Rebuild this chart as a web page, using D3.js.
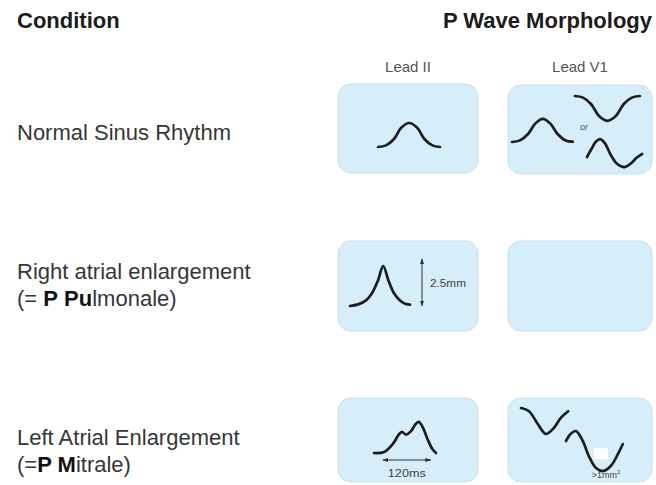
<!DOCTYPE html>
<html><head><meta charset="utf-8">
<script src="https://cdn.jsdelivr.net/npm/d3@7"></script>
<style>html,body{margin:0;padding:0;background:#fff}svg{display:block}</style>
</head><body>
<script>
// ---------- data ----------
const conditions = ["Normal Sinus Rhythm", "Right atrial enlargement", "Left Atrial Enlargement"];
const leads = ["Lead II", "Lead V1"];
const headings = ["Condition", "P Wave Morphology"];
// label lines: segments [text, bold]
const labelLines = [
  [[["Normal Sinus Rhythm", 0]]],
  [[["Right atrial enlargement", 0]], [["(= ", 0], ["P", 1], [" ", 0], ["Pu", 1], ["lmonale)", 0]]],
  [[["Left Atrial Enlargement", 0]], [["(=", 0], ["P M", 1], ["itrale)", 0]]]
];
// waveforms: [time (ms), amplitude (mm)]
const normalII   = [[0,0],[20,0.1],[40,0.5],[58,1.2],[78,1.5],[98,1.2],[116,0.5],[136,0.1],[155,0]];
const normalV1a  = [[0,0],[20,0.1],[40,0.5],[58,1.15],[77,1.45],[96,1.15],[114,0.5],[134,0.1],[152,0.02]];
const normalV1b  = [[0,0],[20,-0.1],[40,-0.5],[60,-1.25],[81,-1.55],[102,-1.25],[122,-0.5],[142,-0.1],[162,0]];
const normalV1c  = [[0,0],[10,0.45],[22,0.95],[33,1.12],[45,0.85],[58,0.2],[72,-0.35],[85,-0.58],[96,-0.62],[110,-0.4],[124,-0.05],[138,0.2]];
const pulmonaleII = [[0,0],[20,0.1],[40,0.35],[55,0.8],[70,1.6],[83,2.5],[96,1.6],[110,0.8],[125,0.35],[140,0.12],[150,0.08]];
const mitraleII  = [[0,0],[25,0.06],[48,0.6],[62,1.15],[70,1.32],[80,1.15],[92,1.35],[104,1.8],[112,1.95],[122,1.6],[135,0.8],[146,0.25],[155,0]];
const mitraleV1a = [[0,0],[20,-0.2],[42,-1.0],[62,-1.62],[82,-1.25],[100,-0.6],[118,-0.2]];
const mitraleV1b = [[0,0],[12,0.45],[25,0.62],[42,0],[57,-0.94],[75,-1.69],[92,-1.88],[112,-1.56],[130,-0.81],[142,-0.19]];
const annotations = ["2.5mm", "120ms", ">1mm", "or"];
const pAmplitudeMm = 2.5, pDurationMs = 120;

// ---------- layout ----------
const W = 656, H = 485;
const pxPerMs = 0.4, pxPerMm = 16;
const svg = d3.select("body").append("svg").attr("width", W).attr("height", H);
const font = "'Liberation Sans', Arial, Helvetica, sans-serif";

const rowY = d3.scalePoint().domain(conditions).range([84, 398]);
const colX = d3.scalePoint().domain(leads).range([338, 508]);
const boxW = {"Lead II": 140, "Lead V1": 144};
const boxH = [89, 90, 84];

// headings
svg.append("text").text(headings[0]).attr("x", 17).attr("y", 28)
  .attr("font-family", font).attr("font-weight", "bold").attr("font-size", 22).attr("fill", "#1c1c1c");
svg.append("text").text(headings[1]).attr("x", 652).attr("y", 28).attr("text-anchor", "end")
  .attr("font-family", font).attr("font-weight", "bold").attr("font-size", 22).attr("fill", "#1c1c1c");

// lead headers
svg.selectAll("text.lead").data(leads).join("text").attr("class", "lead")
  .attr("x", d => colX(d) + boxW[d] / 2).attr("y", 72).attr("text-anchor", "middle")
  .attr("font-family", font).attr("font-size", 15).attr("fill", "#555").text(d => d);

// condition labels
const labelOffsets = [56, 38, 47];
conditions.forEach((c, i) => {
  labelLines[i].forEach((line, j) => {
    const t = svg.append("text").attr("x", 17).attr("y", rowY(c) + labelOffsets[i] + j * 27)
      .attr("font-family", font).attr("font-size", 22).attr("fill", "#363636");
    line.forEach(([s, b]) => t.append("tspan").text(s).attr("font-weight", b ? "bold" : "normal")
      .attr("fill", b ? "#111" : "#363636"));
  });
});

// boxes
conditions.forEach((c, i) => {
  leads.forEach(l => {
    svg.append("rect").attr("x", colX(l)).attr("y", rowY(c) + (l === "Lead V1" && i !== 1 ? 1 : 0) - (l==="Lead V1" && i===2 ? 1 : 0))
      .attr("width", boxW[l]).attr("height", boxH[i]).attr("rx", 13).attr("ry", 13)
      .attr("fill", "#d6eef9").attr("stroke", "#c9e0ec").attr("stroke-width", 1);
  });
});

// waves: placement (box-relative start x, baseline y)
const waves = [
  {data: normalII,    row: 0, lead: "Lead II", dx: 40, dy: 63},
  {data: normalV1a,   row: 0, lead: "Lead V1", dx: 4,  dy: 58},
  {data: normalV1b,   row: 0, lead: "Lead V1", dx: 67, dy: 12},
  {data: normalV1c,   row: 0, lead: "Lead V1", dx: 79, dy: 73},
  {data: pulmonaleII, row: 1, lead: "Lead II", dx: 12, dy: 65},
  {data: mitraleII,   row: 2, lead: "Lead II", dx: 36, dy: 55},
  {data: mitraleV1a,  row: 2, lead: "Lead V1", dx: 13, dy: 10},
  {data: mitraleV1b,  row: 2, lead: "Lead V1", dx: 58, dy: 43}
];
function scalesFor(w) {
  const x0 = colX(w.lead) + w.dx, y0 = rowY(conditions[w.row]) + w.dy;
  const x = d3.scaleLinear().domain([0, 1]).range([x0, x0 + pxPerMs]);
  const y = d3.scaleLinear().domain([0, 1]).range([y0, y0 - pxPerMm]);
  return {x, y};
}
waves.forEach(w => {
  const {x, y} = scalesFor(w);
  const line = d3.line().x(d => x(d[0])).y(d => y(d[1])).curve(d3.curveCatmullRom.alpha(0.5));
  svg.append("path").attr("d", line(w.data)).attr("fill", "none")
    .attr("stroke", "#1d1d1d").attr("stroke-width", 2.7).attr("stroke-linecap", "round").attr("stroke-linejoin", "round");
});

// arrow markers
const defs = svg.append("defs");
["s", "e"].forEach(k => {
  defs.append("marker").attr("id", "ah" + k).attr("viewBox", "0 0 10 10").attr("refX", 9).attr("refY", 5)
    .attr("markerWidth", 6).attr("markerHeight", 6).attr("orient", k === "e" ? "auto" : "auto-start-reverse")
    .append("path").attr("d", "M0,1.5 L10,5 L0,8.5 Z").attr("fill", "#333");
});

// 2.5mm amplitude arrow
{
  const {x, y} = scalesFor(waves[4]);
  const ax = x(0) + 72;
  svg.append("line").attr("x1", ax).attr("x2", ax).attr("y1", y(0)).attr("y2", y(pAmplitudeMm + 0.45))
    .attr("stroke", "#333").attr("stroke-width", 1).attr("marker-start", "url(#ahs)").attr("marker-end", "url(#ahe)");
  svg.append("text").text(annotations[0]).attr("x", ax + 8).attr("y", y(1.2))
    .attr("font-family", font).attr("font-size", 10).attr("fill", "#444").attr("textLength", 36).attr("lengthAdjust", "spacingAndGlyphs");
}
// 120ms duration arrow
{
  const {x, y} = scalesFor(waves[5]);
  const ay = y(0) + 7;
  const xs = x(22);
  svg.append("line").attr("x1", xs).attr("x2", x(22 + pDurationMs)).attr("y1", ay).attr("y2", ay)
    .attr("stroke", "#333").attr("stroke-width", 1).attr("marker-start", "url(#ahs)").attr("marker-end", "url(#ahe)");
  svg.append("text").text(annotations[1]).attr("x", x(22 + pDurationMs / 2)).attr("y", ay + 17).attr("text-anchor", "middle")
    .attr("font-family", font).attr("font-size", 10).attr("fill", "#444").attr("textLength", 38).attr("lengthAdjust", "spacingAndGlyphs");
}
// >1mm² box
{
  const {x, y} = scalesFor(waves[7]);
  svg.append("rect").attr("x", x(70)).attr("y", y(-0.45)).attr("width", 14).attr("height", 11).attr("fill", "#fff");
  const t = svg.append("text").attr("x", x(100)).attr("y", y(-2.3)).attr("text-anchor", "middle")
    .attr("font-family", font).attr("font-size", 9).attr("fill", "#444");
  t.append("tspan").text(annotations[2]);
  t.append("tspan").text("2").attr("font-size", 6).attr("dy", -4);
}
// "or"
{
  const {x, y} = scalesFor(waves[1]);
  svg.append("text").text(annotations[3]).attr("x", x(170)).attr("y", y(0.75))
    .attr("font-family", font).attr("font-size", 9).attr("font-style", "italic").attr("fill", "#555");
}
</script>
</body></html>
